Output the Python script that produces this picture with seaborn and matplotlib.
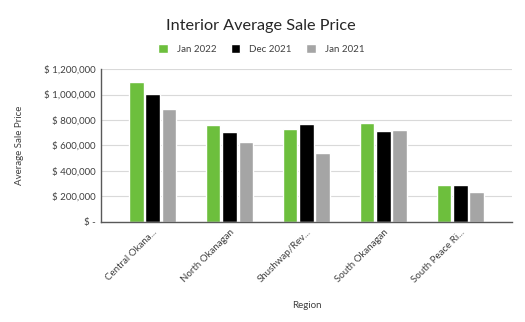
import matplotlib
matplotlib.use("Agg")
import matplotlib.pyplot as plt
import seaborn as sns
import pandas as pd
from matplotlib.ticker import FuncFormatter

regions = ["Central Okana...", "North Okanagan", "Shushwap/Rev...",
           "South Okanagan", "South Peace Ri..."]
periods = ["Jan 2022", "Dec 2021", "Jan 2021"]
jan_2022 = [1095000, 760000, 732000, 776000, 288000]
dec_2021 = [1005000, 705000, 768000, 712000, 288000]
jan_2021 = [885000, 628000, 545000, 720000, 232000]
colors = ["#6dbf3d", "#000000", "#a5a5a5"]

df = pd.DataFrame({
    "Region": regions * 3,
    "Period": [p for p in periods for _ in regions],
    "Price": jan_2022 + dec_2021 + jan_2021,
})

sns.set_theme(style="white")
plt.rcParams["font.family"] = ["Lato", "DejaVu Sans"]

fig = plt.figure(figsize=(5.25, 3.22), dpi=100)
ax = fig.add_axes([0.1924, 0.3106, 0.7826, 0.4751])

sns.barplot(data=df, x="Region", y="Price", hue="Period", hue_order=periods,
            palette=colors, width=0.64, gap=0.1, ax=ax, legend=True,
            saturation=1)

ax.set_xlim(-0.67, 4.67)
ax.set_ylim(0, 1200000)
ax.set_yticks(range(0, 1200001, 200000))

def money(v, _):
    return "$ -" if v == 0 else f"$ {int(v):,}"

ax.yaxis.set_major_formatter(FuncFormatter(money))
ax.grid(axis="y", color="#d9d9d9", linewidth=0.8)
ax.set_axisbelow(True)
for side in ("top", "right"):
    ax.spines[side].set_visible(False)
ax.spines["left"].set_color("#595959")
ax.spines["bottom"].set_color("#595959")
ax.spines["left"].set_linewidth(1.0)
ax.spines["bottom"].set_linewidth(1.0)
ax.tick_params(axis="both", length=0, labelsize=7, colors="#404040", pad=4)

for lbl in ax.get_xticklabels():
    lbl.set_rotation(45)
    lbl.set_ha("right")
    lbl.set_rotation_mode("anchor")

ax.set_xlabel("Region", fontsize=7, color="#404040", labelpad=12)
ax.set_ylabel("Average Sale Price", fontsize=7, color="#404040", labelpad=14)

leg = ax.legend(loc="lower center", bbox_to_anchor=(0.39, 1.04), ncol=3,
                frameon=False, fontsize=7, handlelength=1.0, handleheight=1.0,
                columnspacing=1.5, handletextpad=0.9)
for t in leg.get_texts():
    t.set_color("#404040")

fig.text(0.497, 0.92, "Interior Average Sale Price", ha="center", va="center",
         fontsize=11.7, color="#262626")

fig.savefig("out.png", dpi=100)
